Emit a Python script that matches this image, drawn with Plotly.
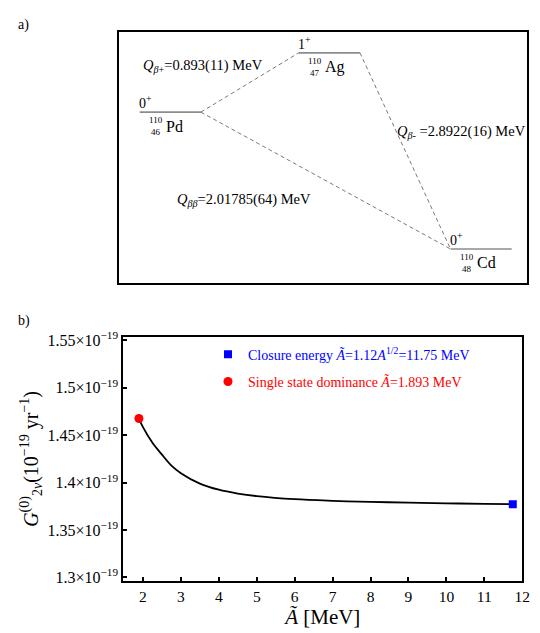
import plotly.graph_objects as go

# ---------------- data ----------------
# b) phase-space factor vs. closure energy
A_tilde = [1.893, 2.0, 2.25, 2.5, 2.75, 3.0, 3.5, 4.0, 4.5, 5.0, 6.0, 7.0, 8.0, 9.0, 10.0, 11.0, 11.75]
G2nu = [1.4676, 1.4585, 1.4420, 1.4295, 1.4180, 1.4100, 1.3990, 1.3925, 1.3885, 1.3858,
        1.3825, 1.3808, 1.3797, 1.3789, 1.3782, 1.3776, 1.3772]  # units of 1e-19 yr^-1
closure_A = [11.75]
closure_G = [1.3772]
ssd_A = [1.893]
ssd_G = [1.4676]
x_ticks = [2, 3, 4, 5, 6, 7, 8, 9, 10, 11, 12]
y_ticks = [1.30, 1.35, 1.40, 1.45, 1.50, 1.55]
y_ticktext = ["1.3×10<sup>−19</sup>", "1.35×10<sup>−19</sup>", "1.4×10<sup>−19</sup>",
              "1.45×10<sup>−19</sup>", "1.5×10<sup>−19</sup>", "1.55×10<sup>−19</sup>"]

# a) level scheme (energies in MeV relative to 110Cd ground state)
nuclei = ["Pd", "Ag", "Cd"]
Z = [46, 47, 48]
mass = 110
spins = ["0<sup>+</sup>", "1<sup>+</sup>", "0<sup>+</sup>"]
level_E = [2.01785, 2.8922, 0.0]
level_left = [5.0, 44.0, 81.2]   # diagram column (0..100)
level_width = 15.0
q_labels = ["<i>Q</i><sub><i>β</i>+</sub>=0.893(11) MeV",
            "<i>Q</i><sub><i>β</i>-</sub> =2.8922(16) MeV",
            "<i>Q</i><sub><i>ββ</i></sub>=2.01785(64) MeV"]
transitions = [(0, 1), (1, 2), (0, 2)]

FONT = "Liberation Serif, Times New Roman, serif"
W, H = 540, 633

fig = go.Figure()

# ---- panel a: level lines ----
for i in range(3):
    fig.add_trace(go.Scatter(
        x=[level_left[i], level_left[i] + level_width], y=[level_E[i], level_E[i]],
        xaxis="x2", yaxis="y2", mode="lines",
        line=dict(color="#8c8c8c", width=1.6), showlegend=False, hoverinfo="skip"))
for a, b in transitions:
    fig.add_trace(go.Scatter(
        x=[level_left[a] + level_width, level_left[b]], y=[level_E[a], level_E[b]],
        xaxis="x2", yaxis="y2", mode="lines",
        line=dict(color="#6a6a6a", width=0.9, dash="4px,3px"), showlegend=False, hoverinfo="skip"))

# ---- panel b ----
fig.add_trace(go.Scatter(x=A_tilde, y=G2nu, mode="lines", line=dict(color="black", width=1.8, shape="spline"),
                         showlegend=False))
fig.add_trace(go.Scatter(x=closure_A, y=closure_G, mode="markers",
                         marker=dict(symbol="square", color="blue", size=8),
                         name='<span style="color:blue">Closure energy <i>A\u0303</i>=1.12<i>A</i><sup>1/2</sup>=11.75 MeV</span>',
                         legendgroup="g1"))
fig.add_trace(go.Scatter(x=ssd_A, y=ssd_G, mode="markers",
                         marker=dict(symbol="circle", color="red", size=9),
                         name='<span style="color:red">Single state dominance <i>A\u0303</i>=1.893 MeV</span>',
                         legendgroup="g2"))

annotations = []
# level annotations
for i in range(3):
    annotations.append(dict(x=level_left[i], y=level_E[i], xref="x2", yref="y2", text=spins[i],
                            showarrow=False, xanchor="left", yanchor="bottom", xshift=-3, yshift=-1,
                            font=dict(size=14, family=FONT, color="black")))
    annotations.append(dict(x=level_left[i], y=level_E[i], xref="x2", yref="y2", text=str(mass),
                            showarrow=False, xanchor="center", yanchor="middle", xshift=16, yshift=-8,
                            font=dict(size=9, family=FONT, color="black")))
    annotations.append(dict(x=level_left[i], y=level_E[i], xref="x2", yref="y2", text=str(Z[i]),
                            showarrow=False, xanchor="center", yanchor="middle", xshift=16, yshift=-20,
                            font=dict(size=9, family=FONT, color="black")))
    annotations.append(dict(x=level_left[i], y=level_E[i], xref="x2", yref="y2", text=nuclei[i],
                            showarrow=False, xanchor="left", yanchor="middle", xshift=24, yshift=-14,
                            font=dict(size=16, family=FONT, color="black")))
# Q-value labels (placed near their transitions)
q_pos = [(20.5, 2.70), (84.0, 1.72), (30.5, 0.72)]
for (qx, qy), txt in zip(q_pos, q_labels):
    annotations.append(dict(x=qx, y=qy, xref="x2", yref="y2", text=txt, showarrow=False,
                            xanchor="center", yanchor="middle",
                            font=dict(size=14.5, family=FONT, color="black")))
annotations.append(dict(x=8 / W, y=1 - 10 / H, xref="paper", yref="paper", text="a)", showarrow=False,
                        xanchor="left", yanchor="middle", font=dict(size=14, family=FONT, color="black")))
annotations.append(dict(x=8 / W, y=1 - 312 / H, xref="paper", yref="paper", text="b)", showarrow=False,
                        xanchor="left", yanchor="middle", font=dict(size=14, family=FONT, color="black")))

fig.update_layout(
    width=W, height=H,
    margin=dict(l=0, r=0, t=0, b=0),
    paper_bgcolor="white", plot_bgcolor="white",
    font=dict(family=FONT, size=14, color="black"),
    xaxis=dict(domain=[117 / W, 522 / W], range=[1.48, 12.0], tickvals=x_ticks,
               ticks="inside", ticklen=4, tickwidth=1.5, tickcolor="black",
               showline=True, linecolor="black", linewidth=2, mirror=True,
               showgrid=False, zeroline=False, tickfont=dict(size=15.5),
               title=dict(text="<i>A\u0303</i> [MeV]", font=dict(size=21), standoff=4)),
    yaxis=dict(domain=[1 - 577 / H, 1 - 328 / H], range=[1.2962, 1.5538], tickvals=y_ticks,
               ticktext=y_ticktext, ticks="inside", ticklen=4, tickwidth=1.5, tickcolor="black",
               showline=True, linecolor="black", linewidth=2, mirror=True,
               showgrid=False, zeroline=False, tickfont=dict(size=16),
               title=dict(text="<i>G</i><sup>(0)</sup><sub>2<i>ν</i></sub>(10<sup>−19</sup> yr<sup>−1</sup>)",
                          font=dict(size=20), standoff=4)),
    xaxis2=dict(domain=[113 / W, 527 / W], range=[0, 100], anchor="y2",
                showline=True, linecolor="black", linewidth=2, mirror=True,
                showticklabels=False, ticks="", showgrid=False, zeroline=False, fixedrange=True),
    yaxis2=dict(domain=[1 - 273 / H, 1 - 17 / H], range=[-0.499, 3.204], anchor="x2",
                showline=True, linecolor="black", linewidth=2, mirror=True,
                showticklabels=False, ticks="", showgrid=False, zeroline=False, fixedrange=True),
    legend=dict(x=203 / W, y=1 - 330 / H, xanchor="left", yanchor="top",
                bgcolor="rgba(0,0,0,0)", font=dict(size=14), tracegroupgap=6,
                itemwidth=30),
    annotations=annotations,
)

fig.write_html("out.html")
